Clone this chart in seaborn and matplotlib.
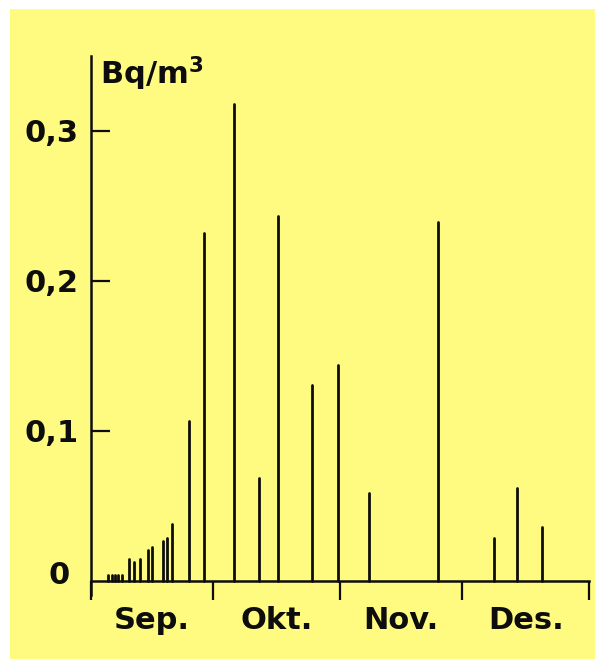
import matplotlib
matplotlib.use("Agg")
import matplotlib.pyplot as plt
from matplotlib.patches import Rectangle
import numpy as np
import pandas as pd
import seaborn as sns

# Sampling days counted from 1 September, and activity concentration (Bq/m3)
days = [4.1, 5.1, 5.9, 6.6, 7.6, 9.3, 10.5, 12.0, 13.9, 14.9, 17.6, 18.5, 19.8,
        24.1, 27.8, 35.1, 41.2, 45.9, 54.1, 60.5, 68.0, 84.9, 98.8, 104.4, 110.5]
values = [0.004, 0.004, 0.004, 0.004, 0.004, 0.015, 0.013, 0.015, 0.021, 0.023,
          0.027, 0.029, 0.038, 0.107, 0.232, 0.318, 0.069, 0.243, 0.131, 0.144,
          0.059, 0.239, 0.029, 0.062, 0.036]

months = ["Sep.", "Okt.", "Nov.", "Des."]
month_starts = [0, 30, 61, 91, 122]
y_ticks = [0.1, 0.2, 0.3]
y_labels = ["0,1", "0,2", "0,3"]
unit = r"Bq/m$^{\mathbf{3}}$"

sns.set_theme(style="white")
plt.rcParams["font.family"] = ["DejaVu Sans"]
plt.rcParams["font.weight"] = "bold"
plt.rcParams["mathtext.default"] = "bf"

yellow = "#FFFA80"
ink = "#0d0d0d"

W, H = 597, 659
fig = plt.figure(figsize=(W / 100, H / 100), dpi=100, facecolor="white")
fig.patches.append(Rectangle((10 / W, 0), 585 / W, 650 / H, transform=fig.transFigure,
                             facecolor=yellow, edgecolor="none", zorder=-10))

# axes: x from 91 px to 589 px, y=0 at 581 px, 0.1 per 150 px
y_bottom, y_top = -0.0093, 0.350
px_per_unit = 1500
bottom_px = 581 + (0 - y_bottom) * px_per_unit
top_px = 581 - y_top * px_per_unit
ax = fig.add_axes([91 / W, (H - bottom_px) / H, 498 / W, (bottom_px - top_px) / H])
ax.set_facecolor("none")

# each measurement as a vertical stem from the baseline up to its value
stems = pd.DataFrame({
    "day": np.repeat(days, 2),
    "value": np.ravel([[0.0, v] for v in values]),
    "id": np.repeat(np.arange(len(days)), 2),
})
sns.lineplot(data=stems, x="day", y="value", units="id", estimator=None,
             color=ink, lw=2.0, sort=False, ax=ax, legend=False)

ax.set_xlim(month_starts[0], month_starts[-1])
ax.set_ylim(y_bottom, y_top)

for side in ("top", "right"):
    ax.spines[side].set_visible(False)
ax.spines["left"].set_color(ink)
ax.spines["left"].set_linewidth(1.8)
ax.spines["bottom"].set_position(("data", 0))
ax.spines["bottom"].set_color(ink)
ax.spines["bottom"].set_linewidth(1.8)

# month separators below the baseline, month names centred between them
ax.set_xticks(month_starts)
ax.set_xticklabels([""] * len(month_starts))
ax.tick_params(axis="x", which="major", direction="out", length=14, width=1.6,
               color=ink, bottom=True)
mids = [(a + b) / 2 for a, b in zip(month_starts[:-1], month_starts[1:])]
ax.set_xticks(mids, minor=True)
ax.set_xticklabels(months, minor=True, fontsize=22, fontweight="bold", color=ink)
ax.tick_params(axis="x", which="minor", length=0, pad=18)
ax.set_xlabel("")

ax.set_yticks(y_ticks)
ax.set_yticklabels(y_labels, fontsize=22, fontweight="bold", color=ink)
ax.tick_params(axis="y", direction="in", length=14, width=1.6, color=ink, pad=9, left=True)
ax.set_ylabel("")
ax.annotate("0", xy=(0, 0), xycoords=("axes fraction", "data"), xytext=(-15, 4),
            textcoords="offset points", ha="right", va="center",
            fontsize=22, fontweight="bold", color=ink)

fig.text(100 / W, 1 - 74 / H, unit, fontsize=22, fontweight="bold", color=ink,
         ha="left", va="center")

fig.savefig("out.png", dpi=100, facecolor="white")
